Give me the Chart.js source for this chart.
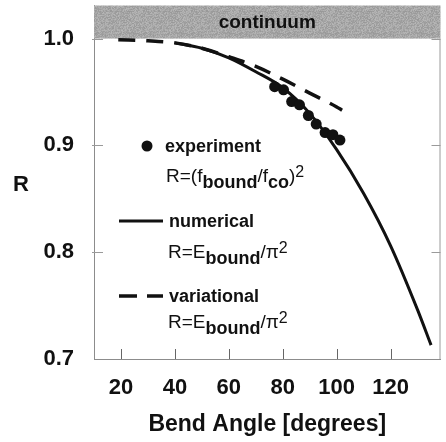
<!DOCTYPE html>
<html>
<head>
<meta charset="utf-8">
<script src="https://cdn.jsdelivr.net/npm/chart.js@4.4.1/dist/chart.umd.min.js"></script>
<style>
  html, body { margin: 0; padding: 0; background: #fff; }
  #wrap { position: relative; width: 446px; height: 442px; }
</style>
</head>
<body>
<div id="wrap"><canvas id="bendChart"></canvas></div>
<script>
// --- values ---
const xTicks = [20, 40, 60, 80, 100, 120];
const yTicks = [0.7, 0.8, 0.9, 1.0];

// experiment, R = (f_bound / f_co)^2
const expAngle = [77.0, 80.3, 83.3, 86.2, 89.5, 92.4, 95.7, 98.6, 101.2];
const expR     = [0.955, 0.952, 0.941, 0.938, 0.928, 0.920, 0.912, 0.910, 0.905];

// numerical, R = E_bound / pi^2
const numAngle = [40, 50, 60, 70, 80, 90, 100, 110, 120, 130, 135];
const numR     = [0.996, 0.991, 0.982, 0.969, 0.954, 0.930, 0.896, 0.855, 0.806, 0.746, 0.713];

// variational, R = E_bound / pi^2
const varAngle = [19, 30, 40, 50, 60, 70, 80, 90, 100, 102];
const varR     = [0.999, 0.998, 0.996, 0.991, 0.983, 0.974, 0.962, 0.949, 0.936, 0.933];

const continuumFrom = 1.0;

const FONT = '"Liberation Sans", Arial, Helvetica, sans-serif';
const INK = '#111';

const toPoints = (xs, ys) => xs.map((x, i) => ({ x: x, y: ys[i] }));

// speckled gray fill for the continuum band (fixed hash, looks like the scan)
function makeGrain() {
    const c = document.createElement('canvas');
    c.width = 48; c.height = 48;
    const g = c.getContext('2d');
    const img = g.createImageData(48, 48);
    for (let j = 0; j < 48; j++) {
        for (let i = 0; i < 48; i++) {
            let h = (i * 374761393 + j * 668265263) | 0;
            h = Math.imul(h ^ (h >>> 13), 1274126177);
            const v = 168 + ((h >>> 8) & 31) - 16;
            const k = (j * 48 + i) * 4;
            img.data[k] = img.data[k + 1] = img.data[k + 2] = v;
            img.data[k + 3] = 255;
        }
    }
    g.putImageData(img, 0, 0);
    return c;
}

// draws text pieces left to right, with sub/superscripts
function drawRich(ctx, x, y, parts) {
    parts.forEach(([txt, kind]) => {
        if (kind === 'sub') ctx.font = 'bold 18px ' + FONT;
        else if (kind === 'sup') ctx.font = '16px ' + FONT;
        else ctx.font = '19px ' + FONT;
        const dy = kind === 'sub' ? 6 : kind === 'sup' ? -5 : 0;
        ctx.fillText(txt, x, y + dy);
        x += ctx.measureText(txt).width;
    });
}

let grain = null;

const decor = {
    id: 'decor',
    beforeDatasetsDraw(chart) {
        const { ctx, chartArea: a, scales: { x, y } } = chart;
        const yc = y.getPixelForValue(continuumFrom);
        if (!grain) grain = ctx.createPattern(makeGrain(), 'repeat');
        ctx.save();
        // continuum band
        ctx.fillStyle = grain;
        ctx.fillRect(a.left, a.top, a.right - a.left, yc - a.top);
        ctx.fillStyle = INK;
        ctx.font = 'bold 19px ' + FONT;
        ctx.textAlign = 'center';
        ctx.textBaseline = 'middle';
        ctx.fillText('continuum', (a.left + a.right) / 2, (a.top + yc) / 2 + 1);

        // right frame line
        ctx.strokeStyle = '#9a9a9a';
        ctx.lineWidth = 1;
        ctx.beginPath();
        ctx.moveTo(a.right - 0.5, yc);
        ctx.lineTo(a.right - 0.5, a.bottom);
        ctx.stroke();

        // inward tick marks
        yTicks.forEach(v => {
            if (v === yTicks[0]) return;
            const py = Math.round(y.getPixelForValue(v)) + 0.5;
            ctx.beginPath();
            ctx.moveTo(a.left - 2, py); ctx.lineTo(a.left + 9, py);
            ctx.moveTo(a.right - 9, py); ctx.lineTo(a.right, py);
            ctx.stroke();
        });
        ctx.strokeStyle = '#666';
        xTicks.forEach(v => {
            const px = Math.round(x.getPixelForValue(v)) + 0.5;
            ctx.beginPath();
            ctx.moveTo(px, a.bottom); ctx.lineTo(px, a.bottom - 10);
            ctx.stroke();
        });
        ctx.restore();
    },
    afterDraw(chart) {
        const { ctx } = chart;
        ctx.save();
        ctx.fillStyle = INK;
        ctx.strokeStyle = INK;

        // y axis title, upright
        ctx.font = 'bold 22px ' + FONT;
        ctx.textAlign = 'center';
        ctx.textBaseline = 'middle';
        ctx.fillText('R', 21, 185);
        ctx.textAlign = 'left';
        ctx.textBaseline = 'alphabetic';

        // legend: experiment
        ctx.beginPath();
        ctx.arc(147, 146, 5.5, 0, Math.PI * 2);
        ctx.fill();
        ctx.font = 'bold 18px ' + FONT;
        ctx.fillText('experiment', 165, 152);
        drawRich(ctx, 166, 182, [['R=(f', ''], ['bound', 'sub'], ['/f', ''], ['co', 'sub'], [')', ''], ['2', 'sup']]);

        // legend: numerical
        ctx.lineWidth = 3;
        ctx.beginPath();
        ctx.moveTo(119, 221); ctx.lineTo(163, 221);
        ctx.stroke();
        ctx.font = 'bold 18px ' + FONT;
        ctx.fillText('numerical', 169, 227);
        drawRich(ctx, 168, 258, [['R=E', ''], ['bound', 'sub'], ['/\u03c0', ''], ['2', 'sup']]);

        // legend: variational
        ctx.lineWidth = 3.5;
        ctx.beginPath();
        ctx.moveTo(119, 296); ctx.lineTo(137, 296);
        ctx.moveTo(147, 296); ctx.lineTo(163, 296);
        ctx.stroke();
        ctx.font = 'bold 18px ' + FONT;
        ctx.fillText('variational', 169, 302);
        drawRich(ctx, 168, 328, [['R=E', ''], ['bound', 'sub'], ['/\u03c0', ''], ['2', 'sup']]);

        ctx.restore();
    }
};

const ctx = document.getElementById('bendChart').getContext('2d');
const bendChart = new Chart(ctx, {
    type: 'line',
    data: {
        datasets: [
            {
                label: 'experiment',
                data: toPoints(expAngle, expR),
                showLine: false,
                pointRadius: 5.5,
                pointBackgroundColor: INK,
                pointBorderColor: INK,
                pointBorderWidth: 0,
            },
            {
                label: 'numerical',
                data: toPoints(numAngle, numR),
                borderColor: INK,
                borderWidth: 3,
                pointRadius: 0,
                fill: false,
                cubicInterpolationMode: 'monotone',
            },
            {
                label: 'variational',
                data: toPoints(varAngle, varR),
                borderColor: INK,
                borderWidth: 3.5,
                borderDash: [17, 11],
                pointRadius: 0,
                fill: false,
                cubicInterpolationMode: 'monotone',
            }
        ]
    },
    options: {
        responsive: true,
        maintainAspectRatio: false,
        animation: false,
        layout: { padding: { top: 5, right: 1, left: 0, bottom: 0 } },
        plugins: {
            legend: { display: false },
            tooltip: { enabled: false }
        },
        scales: {
            x: {
                type: 'linear',
                min: 10,
                max: 138.5,
                afterBuildTicks: s => { s.ticks = xTicks.map(v => ({ value: v })); },
                afterFit: s => {
                    s.height = 83;
                    s.paddingLeft = 0; s.paddingRight = 0;
                },
                grid: { display: false },
                border: { color: '#8c8c8c', width: 1 },
                ticks: {
                    color: INK,
                    padding: 8,
                    maxRotation: 0,
                    font: { family: FONT, size: 22, weight: 'bold' }
                },
                title: {
                    display: true,
                    text: 'Bend Angle [degrees]',
                    color: INK,
                    padding: { top: 0, bottom: 4 },
                    font: { family: FONT, size: 23, weight: 'bold' }
                }
            },
            y: {
                type: 'linear',
                min: 0.7,
                max: 1.031,
                afterBuildTicks: s => { s.ticks = yTicks.map(v => ({ value: v })); },
                afterFit: s => {
                    s.width = 94;
                    s.paddingTop = 0; s.paddingBottom = 0;
                },
                grid: { display: false },
                border: { color: '#8c8c8c', width: 1 },
                ticks: {
                    color: INK,
                    padding: 12,
                    callback: v => Number(v).toFixed(1),
                    font: { family: FONT, size: 22, weight: 'bold' }
                }
            }
        }
    },
    plugins: [decor]
});
</script>
</body>
</html>
